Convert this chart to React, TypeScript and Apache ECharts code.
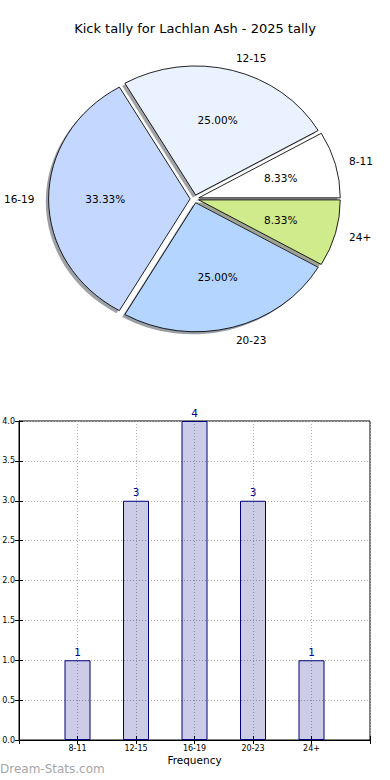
import React, { useEffect, useRef } from "react";
import * as echarts from "echarts";

const chartTitle = "Kick tally for Lachlan Ash - 2025 tally";
const categories = ["8-11", "12-15", "16-19", "20-23", "24+"];
const kicks = [1, 3, 4, 3, 1];
const sliceColors = ["#ffffff", "#eaf1ff", "#c4d8ff", "#b4d5ff", "#d0eb8b"];
const xAxisName = "Frequency";
const watermark = "Dream-Stats.com";

const FONT = '"DejaVu Sans", Verdana, sans-serif';

// pie layout (elliptical, like the non-equal-aspect matplotlib pie)
const PIE_CX = 194.5;
const PIE_CY = 198.8;
const RX = 141.5;
const RY = 129;
const EXPLODE = 0.031;
const SHADOW = 0.02;
const LABEL_DIST = 1.1;
const PCT_DIST = 0.6;

function shade(hex: string) {
  const n = parseInt(hex.slice(1), 16);
  const r = Math.round(((n >> 16) & 255) * 0.3);
  const g = Math.round(((n >> 8) & 255) * 0.3);
  const b = Math.round((n & 255) * 0.3);
  return `rgba(${r},${g},${b},0.5)`;
}

function wedge(idx: number) {
  const total = kicks.reduce((a, b) => a + b, 0);
  let start = 0;
  for (let i = 0; i < idx; i++) start += kicks[i];
  const a0 = (start / total) * Math.PI * 2;
  const a1 = ((start + kicks[idx]) / total) * Math.PI * 2;
  const mid = (a0 + a1) / 2;
  return { a0, a1, mid, frac: kicks[idx] / total };
}

export default function App() {
  const ref = useRef<HTMLDivElement>(null);

  useEffect(() => {
    document.body.style.margin = "0";
    if (!ref.current) return;
    const chart = echarts.init(ref.current, null, { renderer: "svg" });
    const sy = RY / RX;

    const shadowRender = (params: any) => {
      const { a0, a1, mid } = wedge(params.dataIndex);
      const ox = EXPLODE * RX * Math.cos(mid);
      const oy = -EXPLODE * RX * Math.sin(mid);
      return {
        type: "sector",
        originX: PIE_CX,
        originY: PIE_CY,
        scaleY: sy,
        shape: {
          cx: PIE_CX + ox - SHADOW * RX,
          cy: PIE_CY + oy + SHADOW * RX,
          r: RX,
          r0: 0,
          startAngle: -a1,
          endAngle: -a0,
          clockwise: true,
        },
        style: { fill: shade(sliceColors[params.dataIndex]), stroke: null },
      };
    };

    const wedgeRender = (params: any) => {
      const idx = params.dataIndex;
      const { a0, a1, mid, frac } = wedge(idx);
      const c = Math.cos(mid);
      const s = Math.sin(mid);
      const ox = EXPLODE * RX * c;
      const oy = -EXPLODE * RX * s;
      const wx = PIE_CX + EXPLODE * RX * c;
      const wy = PIE_CY - EXPLODE * RY * s;
      return {
        type: "group",
        children: [
          {
            type: "sector",
            originX: PIE_CX,
            originY: PIE_CY,
            scaleY: sy,
            shape: {
              cx: PIE_CX + ox,
              cy: PIE_CY + oy,
              r: RX,
              r0: 0,
              startAngle: -a1,
              endAngle: -a0,
              clockwise: true,
            },
            style: {
              fill: sliceColors[idx],
              stroke: "#000",
              lineWidth: 0.9,
              strokeNoScale: true,
            },
          },
          {
            type: "text",
            x: wx + LABEL_DIST * RX * c,
            y: wy - LABEL_DIST * RY * s,
            style: {
              text: categories[idx],
              fill: "#000",
              fontSize: 10.5,
              fontFamily: FONT,
              align: c > 0 ? "left" : "right",
              verticalAlign: "middle",
            },
          },
          {
            type: "text",
            x: wx + PCT_DIST * RX * c,
            y: wy - PCT_DIST * RY * s,
            style: {
              text: (frac * 100).toFixed(2) + "%",
              fill: "#000",
              fontSize: 10.5,
              fontFamily: FONT,
              align: "center",
              verticalAlign: "middle",
            },
          },
        ],
      };
    };

    const dotted = { color: "#b0b0b0", width: 1, type: [1, 2] as any };

    chart.setOption({
      animation: false,
      backgroundColor: "#ffffff",
      textStyle: { fontFamily: FONT },
      title: {
        text: chartTitle,
        left: "center",
        top: 22,
        padding: 0,
        textStyle: { fontSize: 13, fontWeight: "normal", color: "#000", fontFamily: FONT },
      },
      graphic: [
        {
          type: "text",
          left: 0,
          top: 763,
          style: {
            text: watermark,
            fill: "#a6a6a6",
            fontSize: 12,
            fontFamily: FONT,
          },
        },
      ],
      grid: {
        left: 19,
        right: 20,
        top: 421,
        bottom: 40,
        show: true,
        borderColor: "#000",
        borderWidth: 1,
        containLabel: false,
        outerBoundsMode: "none",
      },
      xAxis: [
        {
          type: "value",
          min: 0,
          max: 6,
          interval: 1,
          position: "bottom",
          name: xAxisName,
          nameLocation: "middle",
          nameGap: 14,
          nameTextStyle: { fontSize: 10.5, color: "#000", fontFamily: FONT },
          axisLine: { show: true, lineStyle: { color: "#000" } },
          axisTick: { show: true, inside: true, length: 4, lineStyle: { color: "#000" } },
          axisLabel: {
            fontSize: 8,
            color: "#000",
            margin: 4,
            formatter: (v: number) => categories[v - 1] ?? "",
          },
          splitLine: { show: true, lineStyle: dotted },
        },
        {
          type: "value",
          min: 0,
          max: 6,
          interval: 1,
          position: "top",
          axisLine: { show: true, lineStyle: { color: "#000" } },
          axisTick: { show: true, inside: true, length: 4, lineStyle: { color: "#000" } },
          axisLabel: { show: false },
          splitLine: { show: false },
        },
      ],
      yAxis: [
        {
          type: "value",
          min: 0,
          max: 4,
          interval: 0.5,
          axisLine: { show: true, lineStyle: { color: "#000" } },
          axisTick: { show: true, inside: true, length: 4, lineStyle: { color: "#000" } },
          axisLabel: {
            fontSize: 8,
            color: "#000",
            margin: 4,
            formatter: (v: number) => v.toFixed(1),
          },
          splitLine: { show: true, lineStyle: dotted },
        },
        {
          type: "value",
          min: 0,
          max: 4,
          interval: 0.5,
          position: "right",
          axisLine: { show: true, lineStyle: { color: "#000" } },
          axisTick: { show: true, inside: true, length: 4, lineStyle: { color: "#000" } },
          axisLabel: { show: false },
          splitLine: { show: false },
        },
      ],
      series: [
        {
          type: "custom",
          name: "shadow",
          coordinateSystem: "none",
          silent: true,
          data: kicks,
          renderItem: shadowRender,
        },
        {
          type: "custom",
          name: "Kick tally",
          coordinateSystem: "none",
          silent: true,
          data: kicks,
          renderItem: wedgeRender,
        },
        {
          type: "bar",
          name: xAxisName,
          xAxisIndex: 0,
          yAxisIndex: 0,
          data: kicks.map((v, i) => [i + 1, v]),
          barWidth: 26,
          itemStyle: {
            color: "rgba(0,0,128,0.2)",
            borderColor: "#000080",
            borderWidth: 1,
          },
          label: {
            show: true,
            position: "top",
            distance: 3,
            color: "#00008b",
            fontSize: 10.5,
            fontFamily: FONT,
            formatter: (p: any) => String(p.value[1]),
          },
        },
      ],
    });

    return () => chart.dispose();
  }, []);

  return <div ref={ref} style={{ width: 390, height: 780 }} />;
}
